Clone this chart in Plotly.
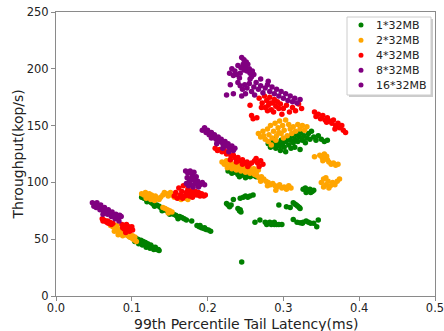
import plotly.graph_objects as go

# ---- data (latency ms, throughput kop/s) ----
g_x = [0.098,0.101,0.103,0.105,0.107,0.108,0.110,0.112,0.113,0.115,0.117,0.118,0.120,0.121,0.123,0.125,0.126,0.128,0.130,0.131,0.133,0.135,0.136,0.104,0.109,0.114,0.119,0.124,0.129,
       0.113,0.116,0.119,0.121,0.124,0.126,0.128,0.131,0.133,0.136,0.138,0.141,0.144,0.146,0.149,0.152,0.155,0.158,0.160,0.163,0.166,0.169,0.172,0.179,0.120,0.130,0.140,0.150,0.161,
       0.186,0.189,0.192,0.195,0.198,0.201,0.204,0.190,0.196,
       0.227,0.232,0.236,0.240,0.244,0.248,0.252,0.256,0.260,0.264,0.230,0.238,0.246,0.254,0.262,0.242,0.250,
       0.225,0.227,0.229,0.231,0.234,0.240,0.242,0.244,0.243,0.243,0.247,0.250,0.253,0.256,0.260,
       0.245,
       0.2625,0.269,0.276,0.279,0.282,0.285,0.288,0.291,0.278,0.284,0.288,0.294,0.298,
       0.294,0.304,0.309,0.313,0.315,0.317,0.319,0.321,0.322,
       0.313,0.318,0.322,0.326,0.330,0.333,0.336,0.340,0.344,0.346,0.325,
       0.326,0.329,0.332,0.335,0.338,0.340,0.330,0.336,
       0.280,0.283,0.285,0.288,0.290,0.292,0.295,0.297,0.299,0.301,0.303,0.305,0.307,0.309,0.311,0.313,0.315,0.317,0.319,0.321,0.323,0.325,0.327,0.329,0.331,0.333,0.335,0.337,0.340,0.343,0.346,0.350,0.354,0.358,0.296,0.310,0.322,0.303,0.287,0.315]
g_y = [52,51,50,51,49,50,48,49,47,48,46,47,45,46,44,45,43,43,42,43,41,41,40,48,46,45,43,42,41,
       87,86,85,84,83,82,81,80,80,79,78,77,76,75,74,73,72,71,70,70,69,68,67,66,83,79,75,72,68,
       62,61,60,59.5,58.5,58,57,62,60,
       110,108,109,107,108,106,107,105,106,105,112,111,110,109,108,105,104,
       81.5,80,78.5,80,85,77,75,74,76,86,87,88,87,88,89,
       30,
       65,67,65,64,65,64,65,63,63,63,63,63,63,
       80,78.5,78,82,81,80,79,78,77,
       67.4,65,64.5,65,66,65,64,64,61,67,64,
       94,95,93,94,92,93,91,91,
       134,131,136,133,130,135,132,137,134,131,136,139,133,137,141,135,138,142,136,140,144,137,141,135,139,143,138,145,140,137,141,138,136,137,128,130,129,127,138,131]

o_x = [0.072,0.075,0.078,0.080,0.083,0.085,0.087,0.090,0.092,0.095,0.097,0.100,0.102,0.104,0.106,0.080,0.085,0.090,0.094,0.098,0.101,0.104,0.088,0.077,0.082,
       0.113,0.116,0.118,0.121,0.123,0.126,0.128,0.131,0.133,0.136,0.138,0.141,0.143,0.146,0.148,0.151,0.153,0.156,0.159,0.162,0.165,0.168,0.171,0.174,0.119,0.125,0.130,
       0.141,0.144,0.147,0.150,0.153,0.148,
       0.219,0.222,0.225,0.228,0.231,0.234,0.237,0.240,0.243,0.246,0.249,0.252,0.255,0.258,0.261,0.264,0.267,0.226,0.232,0.238,0.244,0.250,0.256,0.262,
       0.265,0.268,0.271,0.274,0.277,0.280,0.283,0.286,0.289,0.292,0.295,0.298,0.301,0.304,0.307,0.310,0.270,0.279,0.290,
       0.267,0.270,0.273,0.276,0.279,0.281,0.283,0.285,0.287,0.289,0.291,0.293,0.295,0.297,0.299,0.301,0.303,0.305,0.307,0.309,0.311,0.313,0.316,0.319,0.322,0.325,0.328,0.331,0.280,0.284,0.290,0.300,0.274,0.294,
       0.341,
       0.348,0.351,0.354,0.354,0.357,0.360,0.363,0.366,0.369,0.372,0.358,0.352,
       0.350,0.353,0.356,0.356,0.359,0.362,0.365,0.368,0.371,0.374,0.353,0.360]
o_y = [62,61,60,58,57,59,56,55,54,53,52,51,50,49,48,62,55,58,56,54,53,52,53,57,54,
       90,89,91,88,90,89,87,88,86,85,87,89,91,90,88,91,89,87,88,86,85,87,86,85,86,85,84,
       78,77,76,75,74,73,
       118,116,119,115,117,114,116,113,115,112,114,111,113,110,112,109,111,113,112,111,110,109,108,107,
       106,104,105,103,101,100,98,99,97,96,98,95,96,94,97,95,101,97,93,
       143,140,145,138,147,142,150,139,145,152,141,148,154,143,150,146,155,141,151,147,143,149,145,151,147,150,146,149,136,133,137,139,141,144,
       122.5,
       124,122,125,121,123,118,116,117,115,116,120,119,
       100,103,98,104,101,97,100,98,101,103,96,95]

r_x = [0.061,0.063,0.065,0.067,0.069,0.071,0.073,0.075,0.062,0.068,0.087,0.090,0.093,0.096,0.099,0.101,0.090,0.094,0.097,0.088,0.100,0.092,
       0.156,0.158,0.160,0.162,0.164,0.166,0.168,0.170,0.172,0.174,0.176,0.178,0.180,0.182,0.184,0.186,0.188,0.190,0.192,0.195,0.197,0.167,0.180,
       0.210,0.213,0.216,0.219,0.222,0.225,0.228,0.231,0.234,0.237,0.240,0.243,0.246,0.249,0.252,0.255,0.258,0.230,0.238,0.246,0.253,
       0.262,0.266,0.270,0.273,0.268,0.264,
       0.268,0.272,0.275,0.276,0.278,0.280,0.282,0.284,0.286,0.288,0.290,0.292,0.294,0.279,0.287,0.296,0.271,0.283,0.256,0.258,0.260,0.265,0.300,0.304,0.308,0.312,0.316,0.320,0.324,0.298,
       0.341,0.343,0.346,0.349,0.352,0.355,0.358,0.361,0.364,0.366,0.369,0.372,0.374,0.377,0.379,0.382,0.368,0.357]
r_y = [68,67,66,65,64,65,63,64,66,66,63,62,63,61,60,58,59,58,57,60,61,56,
       88,91,86,95,89,92,97,88,91,94,88,91,93,89,92,89,91,88,90,88,89,86,87,
       130,128,129,127,128,125,126,123,124,121,122,119,120,117,118,116,117,120,118,116,114,
       119,117,119,116,114,121,
       174,170,176,166,172,168,175,164,170,173,167,171,165,163,162,169,166,170,168,159,156,157,165,168,162,166,163,169,165,160,
       162,158,160,156,159,155,157,154,152,155,150,152,148,150,146,144,147,153]

p8_x = [0.048,0.051,0.054,0.053,0.056,0.059,0.058,0.061,0.064,0.063,0.066,0.069,0.068,0.071,0.074,0.073,0.076,0.079,0.078,0.081,0.084,0.083,0.086,0.050,0.062,
        0.171,0.174,0.177,0.180,0.173,0.176,0.179,0.182,0.185,0.172,0.175,0.178,0.181,0.184,0.187,0.190,0.193,0.196,0.188,0.182,
        0.193,0.196,0.198,0.200,0.202,0.205,0.207,0.209,0.211,0.214,0.216,0.218,0.220,0.223,0.225,0.227,0.229,0.232,0.234,0.236,0.212,0.220,0.228,0.205]
p8_y = [82,81,82,78,79,80,76,77,78,74,75,76,72,73,74,70,71,72,68,69,71,66,70,79,72,
        110,108,110,107,104,101,104,102,105,99,97,98,96,99,101,98,100,98,96,109,
        146,148,144,146,142,144,140,142,138,140,136,138,134,136,132,134,130,132,128,130,134,130,127,139]

p16_x = [0.245,0.248,0.251,0.247,0.250,0.253,0.255,0.252,0.256,0.259,0.248,0.244,0.240,0.236,0.232,0.229,0.234,0.238,0.242,0.258,0.261,0.243,0.225,0.234,0.230,
         0.240,0.243,0.246,0.249,0.252,0.255,0.258,0.261,0.264,0.267,0.270,0.273,0.276,0.279,0.282,0.285,0.288,0.291,0.294,0.297,0.300,0.303,0.306,0.309,0.312,0.315,0.318,0.322,0.250,0.262,0.245,0.256,0.270,0.280]
p16_y = [210,208,206,204,202,204,200,198,196,198,199,201,203,198,200,196,194,195,192,193,195,196,177,178,186,
         188,185,182,186,183,187,180,184,188,182,185,179,183,186,180,184,178,182,176,180,174,178,172,176,171,174,170,173,178,177,176,191,191,189]

series_names = ["1*32MB", "2*32MB", "4*32MB", "8*32MB", "16*32MB"]
series_colors = ["green", "orange", "red", "purple", "purple"]
series_x = [g_x, o_x, r_x, p8_x, p16_x]
series_y = [g_y, o_y, r_y, p8_y, p16_y]

x_ticks = [0.0, 0.1, 0.2, 0.3, 0.4, 0.5]
x_ticklabels = ["0.0", "0.1", "0.2", "0.3", "0.4", "0.5"]
y_ticks = [0, 50, 100, 150, 200, 250]

# plot area geometry (pixels) used to place the hand-made legend box
W, H = 444, 331
ML, MR, MT, MB = 56, 9, 12, 35
PW, PH = W - ML - MR, H - MT - MB


def px_x(p):
    return (p - ML) / PW


def px_y(p):
    return (H - MB - p) / PH


fig = go.Figure()
for name, col, xs, ys in zip(series_names, series_colors, series_x, series_y):
    fig.add_trace(go.Scatter(x=xs, y=ys, mode="markers", name=name,
                             marker=dict(color=col, size=5.5, line=dict(width=0))))

axis_common = dict(showgrid=False, zeroline=False, showline=True, mirror=True,
                   linecolor="#8a8a8a", linewidth=1, ticks="outside", ticklen=4,
                   tickcolor="#8a8a8a", tickfont=dict(size=11.5, color="#222"),
                   automargin=False, ticklabeloverflow="allow")

# legend (matplotlib style): box with shadow, dot + label rows
shapes = []
annotations = []
bx0, bx1, by0, by1 = 347, 431, 17, 95
shapes.append(dict(type="rect", xref="paper", yref="paper", layer="above",
                   x0=px_x(bx0 + 2), x1=px_x(bx1 + 2), y0=px_y(by1 + 2), y1=px_y(by0 + 2),
                   line=dict(width=0), fillcolor="rgba(0,0,0,0.2)"))
shapes.append(dict(type="rect", xref="paper", yref="paper", layer="above",
                   x0=px_x(bx0), x1=px_x(bx1), y0=px_y(by1), y1=px_y(by0),
                   line=dict(width=1, color="#cccccc"), fillcolor="white"))
row_y = [25, 40.3, 55.3, 70.2, 85]
for name, col, ry in zip(series_names, series_colors, row_y):
    shapes.append(dict(type="circle", xref="paper", yref="paper", layer="above",
                       x0=px_x(358.5), x1=px_x(363.5), y0=px_y(ry + 2.5), y1=px_y(ry - 2.5),
                       line=dict(width=0), fillcolor=col))
    annotations.append(dict(text=name, xref="paper", yref="paper", x=px_x(374), y=px_y(ry),
                            xanchor="left", yanchor="middle", showarrow=False,
                            font=dict(size=11, color="#222")))

annotations.append(dict(text="99th Percentile Tail Latency(ms)", xref="paper", yref="paper",
                        x=0.5, y=px_y(323.5), xanchor="center", yanchor="middle", showarrow=False,
                        font=dict(size=14)))
annotations.append(dict(text="Throughput(kop/s)", xref="paper", yref="paper",
                        x=px_x(17.5), y=px_y(155), xanchor="center", yanchor="middle",
                        showarrow=False, textangle=-90, font=dict(size=14)))

fig.update_layout(
    width=W, height=H,
    margin=dict(l=ML, r=MR, t=MT, b=MB),
    paper_bgcolor="white", plot_bgcolor="white",
    font=dict(family="DejaVu Sans", color="#222"),
    xaxis=dict(range=[0, 0.5], tickvals=x_ticks, ticktext=x_ticklabels,
               ticklabelstandoff=-3, **axis_common),
    yaxis=dict(range=[0, 250], tickvals=y_ticks, **axis_common),
    showlegend=False,
    shapes=shapes,
    annotations=annotations,
)

fig.write_html("out.html")
